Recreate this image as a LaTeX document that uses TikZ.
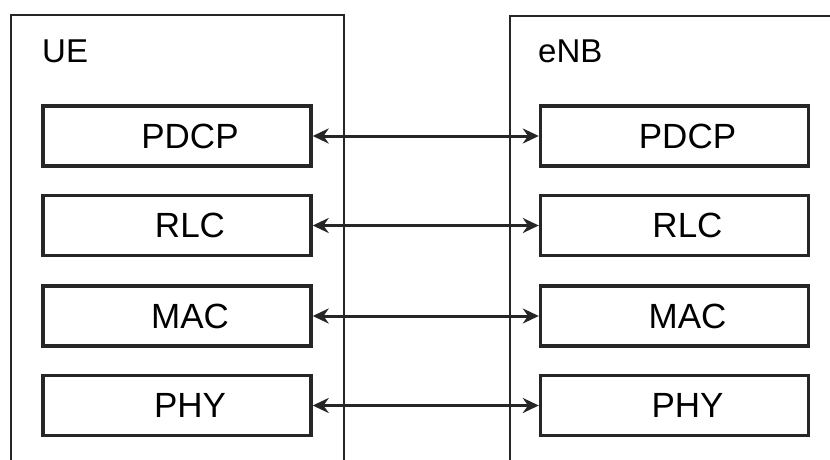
\documentclass[tikz,border=0pt]{standalone}
\usepackage{fontspec}
\setmainfont{Liberation Sans}
\usetikzlibrary{arrows.meta}
\begin{document}
\begin{tikzpicture}[x=1pt,y=-1pt,
  layerbox/.style={draw=black!85, line width=3.4pt, minimum width=268pt, minimum height=60pt,
    inner sep=0pt, font=\fontsize{35}{40}\selectfont},
  entitybox/.style={draw=black!85, line width=2.4pt},
  title/.style={anchor=base west, inner sep=0pt, font=\fontsize{33}{38}\selectfont},
  link/.style={line width=3pt, draw=black!85,
    {Stealth[length=16pt,width=15pt]}-{Stealth[length=16pt,width=15pt]}}]
\useasboundingbox (0,0) rectangle (830,460);
\begin{scope}
\clip (0,0) rectangle (830,460);
\draw[entitybox] (11,475) -- (11,15) -- (344,15) -- (344,475);
\draw[entitybox] (510,475) -- (510,16) -- (845,16);
\end{scope}
\node[title] (ue) at (42,63) {UE};
\node[title] (enb) at (538,63) {eNB};
\foreach \n/\y in {PDCP/136, RLC/225.5, MAC/316, PHY/405.5}{
  \node[layerbox] (ue\n) at (177,\y) {\hspace*{26pt}\n};
  \node[layerbox] (enb\n) at (674.5,\y) {\hspace*{26pt}\n};
  \draw[link] (ue\n.east) -- (enb\n.west);
}
\end{tikzpicture}
\end{document}
